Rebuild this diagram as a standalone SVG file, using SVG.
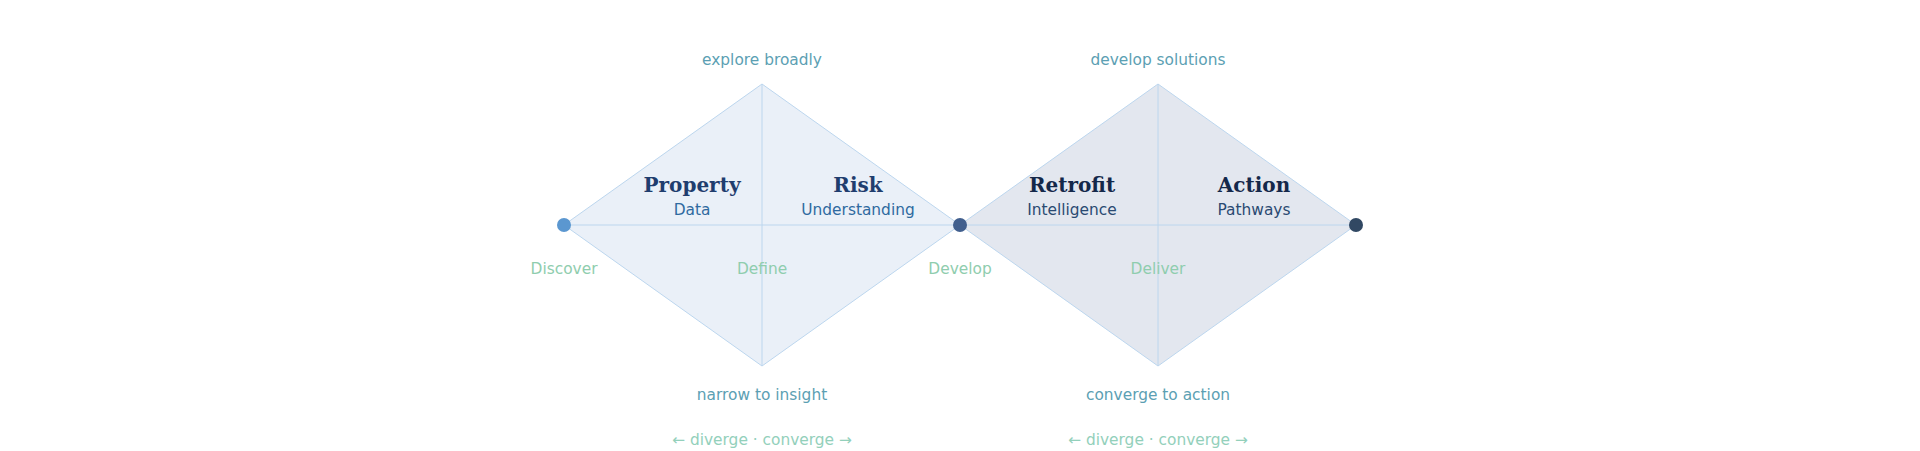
<svg xmlns="http://www.w3.org/2000/svg" width="1920" height="451" viewBox="0 0 1920 451">
<style>
.dia{stroke:#bcd6ee;stroke-width:1}
.axis{stroke:#bcd6ee;stroke-width:1;fill:none}
.t{font-family:"DejaVu Sans",sans-serif;font-size:15.4px;text-anchor:middle}
.h{font-family:"DejaVu Serif",serif;font-size:20px;font-weight:bold;text-anchor:middle}
.cap{fill:#5c9fb3}
.ph{fill:#8fcdae}
.dv{fill:#93d0bb}
</style>
<rect width="1920" height="451" fill="#ffffff"/>
<g id="diamond-1">
<polygon class="dia" points="564,225 762,84 960,225 762,366" fill="#eaf0f8"/>
</g>
<g id="diamond-2">
<polygon class="dia" points="960,225 1158,84 1356,225 1158,366" fill="#e3e7ef"/>
</g>
<g id="connectors">
<line class="axis" x1="564" y1="225" x2="1356" y2="225"/>
<line class="axis" x1="762" y1="84" x2="762" y2="366"/>
<line class="axis" x1="1158" y1="84" x2="1158" y2="366"/>
</g>
<g id="dot-start"><circle cx="564" cy="225" r="7" fill="#5b97d0"/></g>
<g id="dot-mid"><circle cx="960" cy="225" r="7" fill="#415f8e"/></g>
<g id="dot-end"><circle cx="1356" cy="225" r="7" fill="#314863"/></g>
<g id="node-property">
<text class="h" x="692" y="192" fill="#1f3d6e">Property</text>
<text class="t" x="692" y="215" fill="#2f6aa0">Data</text>
</g>
<g id="node-risk">
<text class="h" x="858" y="192" fill="#1f3d6e">Risk</text>
<text class="t" x="858" y="215" fill="#2f6aa0">Understanding</text>
</g>
<g id="node-retrofit">
<text class="h" x="1072" y="192" fill="#14284a">Retrofit</text>
<text class="t" x="1072" y="215" fill="#2a4a72">Intelligence</text>
</g>
<g id="node-action">
<text class="h" x="1254" y="192" fill="#14284a">Action</text>
<text class="t" x="1254" y="215" fill="#2a4a72">Pathways</text>
</g>
<g id="captions">
<text class="t cap" x="762" y="65">explore broadly</text>
<text class="t cap" x="1158" y="65">develop solutions</text>
<text class="t cap" x="762" y="400">narrow to insight</text>
<text class="t cap" x="1158" y="400">converge to action</text>
<text class="t ph" x="564" y="274">Discover</text>
<text class="t ph" x="762" y="274">Define</text>
<text class="t ph" x="960" y="274">Develop</text>
<text class="t ph" x="1158" y="274">Deliver</text>
<text class="t dv" x="762" y="445">← diverge · converge →</text>
<text class="t dv" x="1158" y="445">← diverge · converge →</text>
</g>
</svg>
